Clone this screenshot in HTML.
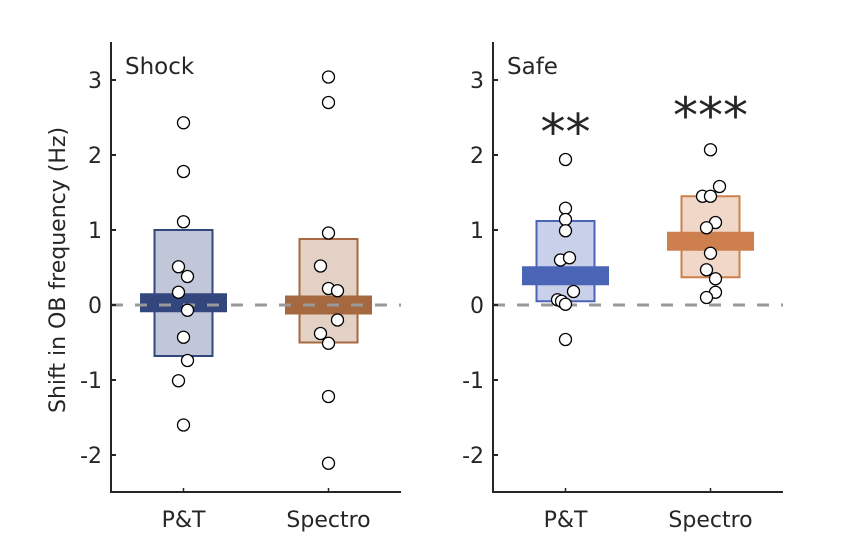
<!DOCTYPE html>
<html><head><meta charset="utf-8"><style>
body{margin:0;background:#fff}
svg text{font-family:"DejaVu Sans","Liberation Sans",sans-serif;fill:#262626}
</style></head><body>
<svg id="c" width="864" height="555" xmlns="http://www.w3.org/2000/svg"></svg>
<script>
const yTicks=[3,2,1,0,-1,-2];
const yTickLabels=["3","2","1","0","-1","-2"];
const categories=["P&T","Spectro"];
const panelTitles=["Shock","Safe"];
const shockPT=[2.43,1.78,1.11,0.51,0.38,0.17,-0.07,-0.43,-0.74,-1.01,-1.6];
const shockPTJitter=[0,0,0,-5,4,-5,4,0,4,-5,0];
const shockSp=[3.04,2.7,0.96,0.52,0.22,0.19,-0.2,-0.38,-0.51,-1.22,-2.11];
const shockSpJitter=[0,0,0,-8,0,9,9,-8,0,0,0];
const safePT=[1.94,1.29,1.14,0.99,0.6,0.63,0.18,0.07,0.05,0.01,-0.46];
const safePTJitter=[0,0,0,0,-5,4,8,-8,-4,0,0];
const safeSp=[2.07,1.58,1.45,1.45,1.1,1.03,0.69,0.47,0.35,0.17,0.1];
const safeSpJitter=[0,9,-8,0,5,-4,0,-4,5,5,-4];
const boxHigh=[[1.0,0.88],[1.12,1.45]];
const boxLow=[[-0.68,-0.5],[0.05,0.37]];
const means=[[0.03,0.0],[0.39,0.85]];
const stars=[["",""],["**","***"]];
const starY=[[0,0],[2.42,2.64]];

const NS="http://www.w3.org/2000/svg";
const svg=document.getElementById('c');
function mk(t,a,p){const e=document.createElementNS(NS,t);for(const k in a)e.setAttribute(k,a[k]);(p||svg).appendChild(e);return e;}
const y=v=>305-75*v;
const panels=[{x0:111,pts:[[shockPT,shockPTJitter],[shockSp,shockSpJitter]],fill:["#c1c7d8","#e3d1c5"],stroke:["#33467e","#a5683f"],mean:["#33467e","#a5683f"]},
{x0:493,pts:[[safePT,safePTJitter],[safeSp,safeSpJitter]],fill:["#c8d0ea","#f0d7c8"],stroke:["#4a65b5","#cd804d"],mean:["#4a65b5","#cd804d"]}];
panels.forEach((P,pi)=>{
  const x=v=>P.x0+145*(v-0.5);
  const g=mk('g',{});
  
  
  categories.forEach((c,ci)=>{
    const cx=x(ci+1);
    const b=mk('rect',{x:cx-29,y:y(boxHigh[pi][ci]),width:58,height:y(boxLow[pi][ci])-y(boxHigh[pi][ci]),fill:P.fill[ci],stroke:P.stroke[ci],'stroke-width':2},g);
    
    
    const m=mk('rect',{x:cx-43.5,y:y(means[pi][ci])-9.5,width:87,height:19,fill:P.mean[ci]},g);
    
    
  });
  const z=mk('line',{x1:P.x0,x2:P.x0+290,y1:y(0),y2:y(0),stroke:'#999','stroke-width':3,'stroke-dasharray':'12,12'},g);
  
  
  P.pts.forEach((s,ci)=>{
    s[0].forEach((v,i)=>{
      const p=mk('circle',{cx:x(ci+1)+s[1][i],cy:y(v),r:6,fill:'#fff',stroke:'#000','stroke-width':1.3},g);
      
      
    });
    if(stars[pi][ci]){
      const t=mk('text',{x:x(ci+1),y:y(starY[pi][ci])+26,'text-anchor':'middle','font-size':50},g);
      t.textContent=stars[pi][ci];
      
      
    }
    const tl=mk('text',{x:x(ci+1),y:527,'text-anchor':'middle','font-size':22},g);
    tl.textContent=categories[ci];
    
    
    mk('line',{x1:x(ci+1),x2:x(ci+1),y1:492,y2:488,stroke:'#262626','stroke-width':1.5},g);
  });
  const ax=mk('path',{d:`M${P.x0},42V492H${P.x0+290}`,fill:'none',stroke:'#262626','stroke-width':2},g);
  
  
  yTicks.forEach((v,i)=>{
    mk('line',{x1:P.x0,x2:P.x0+5,y1:y(v),y2:y(v),stroke:'#262626','stroke-width':2},g);
    const t=mk('text',{x:P.x0-9,y:y(v)+8,'text-anchor':'end','font-size':22},g);
    t.textContent=yTickLabels[i];
    
    
  });
  const tt=mk('text',{x:P.x0+14,y:74,'font-size':23},g);
  tt.textContent=panelTitles[pi];
  
  
});
const yl=mk('text',{x:0,y:0,'text-anchor':'middle','font-size':22,transform:'translate(65,270) rotate(-90)'});
yl.textContent='Shift in OB frequency (Hz)';


</script>
</body></html>
